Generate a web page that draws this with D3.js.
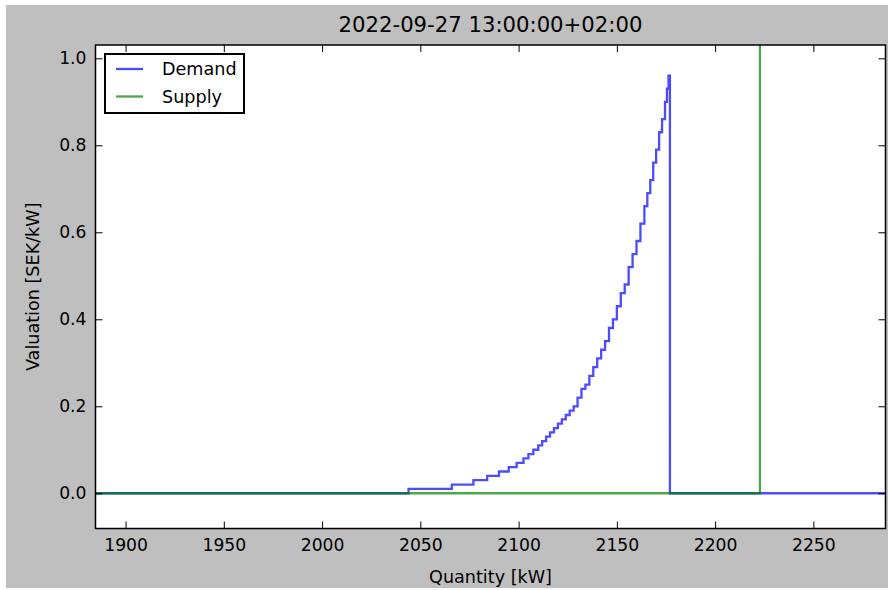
<!DOCTYPE html>
<html>
<head>
<meta charset="utf-8">
<script src="https://cdn.jsdelivr.net/npm/d3@7"></script>
<style>
  body { margin: 0; background: #fff; }
  text { font-family: "DejaVu Sans", sans-serif; fill: #000; }
</style>
</head>
<body>
<div id="chart"></div>
<script>
// demand bid curve: quantity where each step starts and its valuation
var demandQty = [1800, 2044, 2066, 2077, 2084, 2090, 2095, 2099, 2102.5, 2105, 2107.5,
    2110, 2112, 2114, 2116, 2118, 2120, 2122, 2124, 2126, 2128, 2130, 2132, 2134, 2136,
    2138, 2140, 2142, 2144, 2146, 2148, 2150, 2152, 2154, 2156, 2158, 2160, 2162, 2164,
    2165.5, 2167, 2168.5, 2170, 2171.5, 2173, 2174.5, 2175.5, 2176.3, 2177, 2400];
var demandVal = [0, 0.01, 0.02, 0.03, 0.04, 0.05, 0.06, 0.07, 0.08, 0.09, 0.10,
    0.11, 0.12, 0.13, 0.14, 0.15, 0.16, 0.17, 0.18, 0.19, 0.20, 0.22, 0.24, 0.25, 0.27,
    0.29, 0.31, 0.33, 0.35, 0.38, 0.40, 0.43, 0.46, 0.48, 0.52, 0.55, 0.58, 0.62, 0.66,
    0.69, 0.72, 0.76, 0.79, 0.83, 0.86, 0.90, 0.93, 0.96, 0, 0];

var supplyQty = [1800, 2222.8, 2400];
var supplyVal = [0, 2, 2];

var xTicks = [1900, 1950, 2000, 2050, 2100, 2150, 2200, 2250];
var yTicks = [0.0, 0.2, 0.4, 0.6, 0.8, 1.0];
var legendNames = ["Demand", "Supply"];
var colors = ["#0000ff", "#008000"];

var width = 888, height = 590;
var margin = {top: 45, right: 2.5, bottom: 61.5, left: 95.5};
var w = width - margin.left - margin.right;
var h = height - margin.top - margin.bottom;

var svg = d3.select("#chart").append("svg")
    .attr("width", width)
    .attr("height", height);

svg.append("rect")
    .attr("x", 6).attr("y", 5)
    .attr("width", width - 6).attr("height", 583)
    .attr("fill", "#bfbfbf");

var g = svg.append("g")
    .attr("transform", "translate(" + margin.left + "," + margin.top + ")");

var x = d3.scaleLinear().domain([1884.7, 2286.7]).range([0, w]);
var y = d3.scaleLinear().domain([-0.081, 1.0306]).range([h, 0]);

g.append("rect").attr("width", w).attr("height", h).attr("fill", "#fff");

g.append("clipPath").attr("id", "clip")
    .append("rect").attr("width", w).attr("height", h);

var line = d3.line()
    .x(function (d) { return x(d[0]); })
    .y(function (d) { return y(d[1]); })
    .curve(d3.curveStepAfter);

var series = [d3.zip(demandQty, demandVal), d3.zip(supplyQty, supplyVal)];

var plot = g.append("g").attr("clip-path", "url(#clip)");
series.forEach(function (s, i) {
    plot.append("path")
        .datum(s)
        .attr("d", line)
        .attr("fill", "none")
        .attr("stroke", colors[i])
        .attr("stroke-opacity", 0.7)
        .attr("stroke-width", 2.3);
});

// ticks on all four sides, pointing inward
var tl = 7;
g.append("g")
    .attr("transform", "translate(0," + h + ")")
    .call(d3.axisBottom(x).tickValues(xTicks).tickSize(-tl).tickPadding(10).tickFormat(d3.format("d")))
    .call(function (a) { a.select(".domain").remove(); });
g.append("g")
    .call(d3.axisTop(x).tickValues(xTicks).tickSize(-tl).tickFormat(""))
    .call(function (a) { a.select(".domain").remove(); });
g.append("g")
    .call(d3.axisLeft(y).tickValues(yTicks).tickSize(-tl).tickPadding(9).tickFormat(d3.format(".1f")))
    .call(function (a) { a.select(".domain").remove(); });
g.append("g")
    .attr("transform", "translate(" + w + ",0)")
    .call(d3.axisRight(y).tickValues(yTicks).tickSize(-tl).tickFormat(""))
    .call(function (a) { a.select(".domain").remove(); });

g.selectAll(".tick line").attr("stroke", "#000").attr("stroke-width", 1);
g.selectAll(".tick text").style("font-size", "17.2px").style("font-family", "DejaVu Sans");

g.append("rect")
    .attr("width", w).attr("height", h)
    .attr("fill", "none").attr("stroke", "#000").attr("stroke-width", 1.5);

// title and labels
svg.append("text")
    .attr("x", margin.left + w / 2).attr("y", 32)
    .attr("text-anchor", "middle")
    .style("font-size", "21.2px")
    .text("2022-09-27 13:00:00+02:00");

svg.append("text")
    .attr("x", margin.left + w / 2).attr("y", 583)
    .attr("text-anchor", "middle")
    .style("font-size", "17.6px")
    .text("Quantity [kW]");

svg.append("text")
    .attr("transform", "translate(39," + (margin.top + h / 2) + ") rotate(-90)")
    .attr("text-anchor", "middle")
    .style("font-size", "17.6px")
    .text("Valuation [SEK/kW]");

// legend
var legend = svg.append("g").attr("transform", "translate(105,54)");
legend.append("rect")
    .attr("width", 139).attr("height", 59)
    .attr("fill", "#fff").attr("stroke", "#000").attr("stroke-width", 2);
legendNames.forEach(function (name, i) {
    var ly = 15 + i * 27.5;
    legend.append("line")
        .attr("x1", 11).attr("x2", 38)
        .attr("y1", ly).attr("y2", ly)
        .attr("stroke", colors[i]).attr("stroke-opacity", 0.7).attr("stroke-width", 2.3);
    legend.append("text")
        .attr("x", 57).attr("y", ly + 6)
        .style("font-size", "17.6px")
        .text(name);
});
</script>
</body>
</html>
